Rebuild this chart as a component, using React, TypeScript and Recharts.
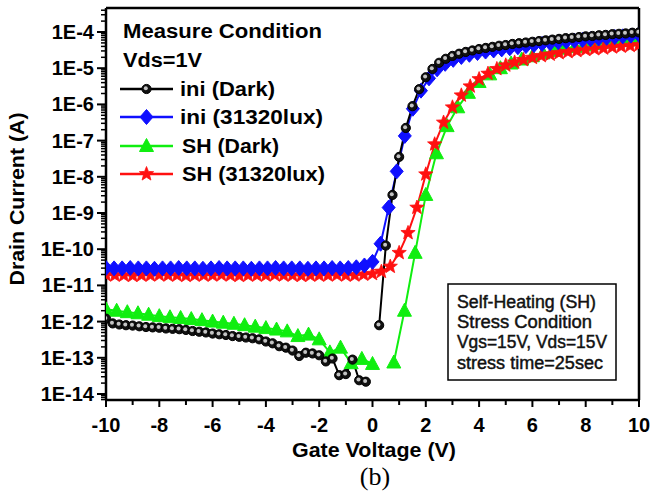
import React from 'react';
import { LineChart, Line, XAxis, YAxis, ReferenceLine, Legend } from 'recharts';

// ---- axis ranges (log10 of drain current) ----
const X_MIN = -10;
const X_MAX = 10;
const Y_MIN = -14.166;
const Y_MAX = -3.337;

// ---- gate-voltage sweeps (start, step) per curve ----
const VG_START = -10;
const iniDarkStep = 0.25;
const iniLightStep = 20 / 66;
const shDarkStep = 0.4;
const shLightStep = 1 / 3;

// ---- log10(Id) ----
const iniDarkLogI: (number | null)[] = [
  -11.92, -12.05, -12.08, -12.1, -12.11, -12.13, -12.15, -12.16, -12.17, -12.19,
  -12.2, -12.21, -12.23, -12.26, -12.28, -12.3, -12.33, -12.35, -12.37, -12.4,
  -12.42, -12.44, -12.46, -12.49, -12.55, -12.6, -12.68, -12.72, -12.8, -12.95,
  -12.86, -12.88, -12.93, -13.1, -13.02, -13.48, -13.45, -13.05, -13.62, -13.66,
  null, -12.1, -9.9, -8.5, -7.45, -6.65, -6.05, -5.58, -5.25, -5.02,
  -4.85, -4.74, -4.66, -4.6, -4.55, -4.51, -4.47, -4.44, -4.41, -4.38,
  -4.36, -4.33, -4.31, -4.29, -4.27, -4.25, -4.23, -4.21, -4.19, -4.17,
  -4.16, -4.14, -4.12, -4.11, -4.09, -4.08, -4.06, -4.05, -4.04, -4.02,
  -4.01,
];

const iniLightLogI: (number | null)[] = [
  -10.52, -10.53, -10.53, -10.52, -10.53, -10.53, -10.54, -10.53, -10.53, -10.52,
  -10.53, -10.53, -10.54, -10.53, -10.52, -10.53, -10.53, -10.53, -10.54, -10.53,
  -10.53, -10.52, -10.53, -10.53, -10.53, -10.54, -10.53, -10.53, -10.52, -10.53,
  -10.52, -10.5, -10.45, -10.35, -9.85, -8.85, -7.85, -6.87, -6.12, -5.62,
  -5.28, -5.03, -4.88, -4.77, -4.69, -4.63, -4.58, -4.54, -4.51, -4.48,
  -4.45, -4.42, -4.39, -4.36, -4.33, -4.31, -4.28, -4.26, -4.24, -4.22,
  -4.2, -4.18, -4.16, -4.14, -4.12, -4.1, -4.08,
];

const shDarkLogI: (number | null)[] = [
  -11.66, -11.7, -11.74, -11.77, -11.81, -11.85, -11.88, -11.9, -11.93, -11.96,
  -12.0, -12.03, -12.06, -12.1, -12.14, -12.18, -12.22, -12.27, -12.4, -12.36,
  -12.49, -12.85, -12.72, -13.15, -13.03, -13.17, null, -13.13, -11.7, -10.1,
  -8.5, -7.35, -6.6, -6.08, -5.68, -5.38, -5.17, -5.0, -4.87, -4.76,
  -4.67, -4.59, -4.52, -4.46, -4.41, -4.37, -4.33, -4.29, -4.26, -4.23,
  -4.2,
];

const shLightLogI: (number | null)[] = [
  -10.71, -10.72, -10.72, -10.73, -10.72, -10.72, -10.71, -10.72, -10.72, -10.73,
  -10.72, -10.72, -10.72, -10.71, -10.72, -10.73, -10.72, -10.72, -10.72, -10.71,
  -10.72, -10.72, -10.73, -10.72, -10.72, -10.72, -10.71, -10.72, -10.72, -10.7,
  -10.68, -10.62, -10.48, -10.1, -9.55, -8.85, -7.93, -7.1, -6.5, -6.08,
  -5.75, -5.5, -5.3, -5.15, -5.02, -4.92, -4.84, -4.77, -4.71, -4.66,
  -4.62, -4.58, -4.55, -4.52, -4.49, -4.47, -4.45, -4.42, -4.4, -4.38,
  -4.36,
];

// ---- tick labels ----
const xMajorTicks = [-10, -8, -6, -4, -2, 0, 2, 4, 6, 8, 10];
const xAllTicks = [-10, -9, -8, -7, -6, -5, -4, -3, -2, -1, 0, 1, 2, 3, 4, 5, 6, 7, 8, 9, 10];
const yMinorFactors = [2, 3, 4, 5, 6, 7, 8, 9];

const legendTitle = 'Measure Condition';
const legendSub = 'Vds=1V';
const noteLines = ['Self-Heating (SH)', 'Stress Condition', 'Vgs=15V, Vds=15V', 'stress time=25sec'];

const FONT = '"Liberation Sans", Arial, Helvetica, sans-serif';

const toPoints = (vals: (number | null)[], step: number) =>
  vals.map((v, i) => ({ vg: VG_START + i * step, logI: v }));

const yTicks: number[] = (() => {
  const t: number[] = [];
  for (let n = -15; n <= -4; n++) {
    t.push(n);
    yMinorFactors.forEach((k) => t.push(n + Math.log10(k)));
  }
  return t.filter((v) => v >= Y_MIN - 1e-9 && v <= Y_MAX + 1e-9);
})();

// ---- marker shapes ----
type MarkProps = { cx: number; cy: number; color: string };

const CircleMark = ({ cx, cy }: MarkProps) => (
  <g>
    <circle cx={cx} cy={cy} r={4.6} fill="#111" stroke="#000" strokeWidth={1} />
    <circle cx={cx - 0.7} cy={cy - 0.7} r={2} fill="#c4c4c4" />
  </g>
);
const DiamondMark = ({ cx, cy, color }: MarkProps) => (
  <polygon points={`${cx},${cy - 7.5} ${cx + 6.5},${cy} ${cx},${cy + 7.5} ${cx - 6.5},${cy}`} fill={color} stroke={color} strokeWidth={1} />
);
const TriangleMark = ({ cx, cy, color }: MarkProps) => (
  <polygon points={`${cx},${cy - 7.5} ${cx + 7},${cy + 5.5} ${cx - 7},${cy + 5.5}`} fill={color} stroke={color} strokeWidth={1} />
);
const StarMark = ({ cx, cy, color }: MarkProps) => {
  const pts: string[] = [];
  for (let i = 0; i < 10; i++) {
    const r = i % 2 === 0 ? 7.5 : 3.2;
    const a = -Math.PI / 2 + (i * Math.PI) / 5;
    pts.push(`${cx + r * Math.cos(a)},${cy + r * Math.sin(a)}`);
  }
  return <polygon points={pts.join(' ')} fill={color} stroke={color} strokeWidth={0.8} />;
};

const series = [
  { key: 'shDark', name: 'SH (Dark)', color: '#10ee10', data: toPoints(shDarkLogI, shDarkStep), Mark: TriangleMark },
  { key: 'shLight', name: 'SH (31320lux)', color: '#ff1010', data: toPoints(shLightLogI, shLightStep), Mark: StarMark },
  { key: 'iniLight', name: 'ini (31320lux)', color: '#1010ff', data: toPoints(iniLightLogI, iniLightStep), Mark: DiamondMark },
  { key: 'iniDark', name: 'ini (Dark)', color: '#000000', data: toPoints(iniDarkLogI, iniDarkStep), Mark: CircleMark },
];

const legendOrder = ['iniDark', 'iniLight', 'shDark', 'shLight'];
const legendTextLen: Record<string, number> = { iniDark: 95, iniLight: 143, shDark: 97, shLight: 143 };

const makeDot = (s: (typeof series)[number]) => (props: any) => {
  const { cx, cy, index, value } = props;
  const k = `${s.key}-${index}`;
  if (cx == null || cy == null || value == null || Number.isNaN(cy)) return <g key={k} />;
  const M = s.Mark;
  return <M key={k} cx={cx} cy={cy} color={s.color} />;
};

const YTick = (props: any) => {
  const { x, y, payload } = props;
  const v = payload.value as number;
  const major = Math.abs(v - Math.round(v)) < 1e-6;
  return (
    <g>
      <line x1={x - (major ? 9 : 5)} x2={x} y1={y} y2={y} stroke="#000" strokeWidth={major ? 2 : 1.5} />
      {major && (
        <text x={x - 12} y={y} dy={7} textAnchor="end" fontFamily={FONT} fontWeight="bold" fontSize={20} fill="#000">
          {`1E${Math.round(v)}`}
        </text>
      )}
    </g>
  );
};

const XTick = (props: any) => {
  const { x, y, payload } = props;
  const v = payload.value as number;
  const major = xMajorTicks.includes(v);
  return (
    <g>
      <line x1={x} x2={x} y1={y} y2={y + (major ? 7 : 5)} stroke="#000" strokeWidth={2} />
      {major && (
        <text x={x} y={y + 32} textAnchor="middle" fontFamily={FONT} fontWeight="bold" fontSize={20} fill="#000">
          {String(v)}
        </text>
      )}
    </g>
  );
};

const renderLegend = () => {
  const rows = legendOrder.map((k) => series.find((s) => s.key === k)!);
  const lineYs = [89, 117, 146, 174];
  return (
    <svg width={652} height={495} style={{ position: 'absolute', left: 0, top: 0, overflow: 'visible' }}>
      <text x={123} y={38} fontFamily={FONT} fontWeight="bold" fontSize={19.5} textLength={199} lengthAdjust="spacingAndGlyphs">
        {legendTitle}
      </text>
      <text x={123} y={67} fontFamily={FONT} fontWeight="bold" fontSize={19.5} textLength={79} lengthAdjust="spacingAndGlyphs">
        {legendSub}
      </text>
      {rows.map((s, i) => {
        const y = lineYs[i];
        const M = s.Mark;
        return (
          <g key={s.key}>
            <line x1={120} x2={173} y1={y} y2={y} stroke={s.color} strokeWidth={2.5} />
            <M cx={146.5} cy={y} color={s.color} />
            <text
              x={s.key.startsWith('sh') ? 182 : 180}
              y={y + 7}
              fontFamily={FONT}
              fontWeight="bold"
              fontSize={20.5}
              textLength={legendTextLen[s.key]}
              lengthAdjust="spacingAndGlyphs"
            >
              {s.name}
            </text>
          </g>
        );
      })}
    </svg>
  );
};

const noteLens = [139, 135, 150, 146];
const noteYs = [308, 328, 348, 369];

export default function App() {
  return (
    <div style={{ position: 'absolute', left: 0, top: 0, width: 652, height: 495, background: '#fff' }}>
      <LineChart width={652} height={495} margin={{ top: 8, right: 13, left: 0, bottom: 0 }}>
        <XAxis
          type="number"
          dataKey="vg"
          domain={[X_MIN, X_MAX]}
          allowDataOverflow
          ticks={xAllTicks}
          interval={0}
          height={95}
          tickSize={0}
          tickMargin={0}
          tickLine={false}
          tick={<XTick />}
          axisLine={{ stroke: '#000', strokeWidth: 2.5 }}
        />
        <YAxis
          type="number"
          domain={[Y_MIN, Y_MAX]}
          allowDataOverflow
          ticks={yTicks}
          interval={0}
          width={106}
          tickSize={0}
          tickMargin={0}
          tickLine={false}
          tick={<YTick />}
          axisLine={{ stroke: '#000', strokeWidth: 2.5 }}
        />
        <ReferenceLine x={X_MAX} stroke="#000" strokeWidth={2.5} />
        <ReferenceLine y={Y_MAX} stroke="#000" strokeWidth={2.5} />
        {series.map((s) => (
          <Line
            key={s.key}
            name={s.name}
            data={s.data}
            dataKey="logI"
            type="linear"
            stroke={s.color}
            strokeWidth={2}
            dot={makeDot(s)}
            activeDot={false}
            connectNulls={false}
            isAnimationActive={false}
          />
        ))}
        <Legend
          content={renderLegend}
          layout="vertical"
          align="center"
          verticalAlign="middle"
          wrapperStyle={{ position: 'absolute', left: 0, top: 0, width: 652, height: 495, pointerEvents: 'none' }}
        />
      </LineChart>
      <svg width={652} height={495} style={{ position: 'absolute', left: 0, top: 0, pointerEvents: 'none' }}>
        <text
          transform="translate(24,199) rotate(-90)"
          textAnchor="middle"
          fontFamily={FONT}
          fontWeight="bold"
          fontSize={21}
          textLength={173}
          lengthAdjust="spacingAndGlyphs"
        >
          Drain Current (A)
        </text>
        <text x={374} y={457} textAnchor="middle" fontFamily={FONT} fontWeight="bold" fontSize={21} textLength={164} lengthAdjust="spacingAndGlyphs">
          Gate Voltage (V)
        </text>
        <rect x={448} y={284} width={168} height={96} fill="#fff" stroke="#000" strokeWidth={1.5} />
        {noteLines.map((t, i) => (
          <text
            key={t}
            x={457}
            y={noteYs[i]}
            fontFamily={FONT}
            fontSize={17.5}
            fill="#111"
            stroke="#111"
            strokeWidth={0.45}
            textLength={noteLens[i]}
            lengthAdjust="spacingAndGlyphs"
          >
            {t}
          </text>
        ))}
        <text x={375} y={485} textAnchor="middle" fontFamily='"Liberation Serif", "Times New Roman", serif' fontSize={26} fill="#000">
          (b)
        </text>
      </svg>
    </div>
  );
}
